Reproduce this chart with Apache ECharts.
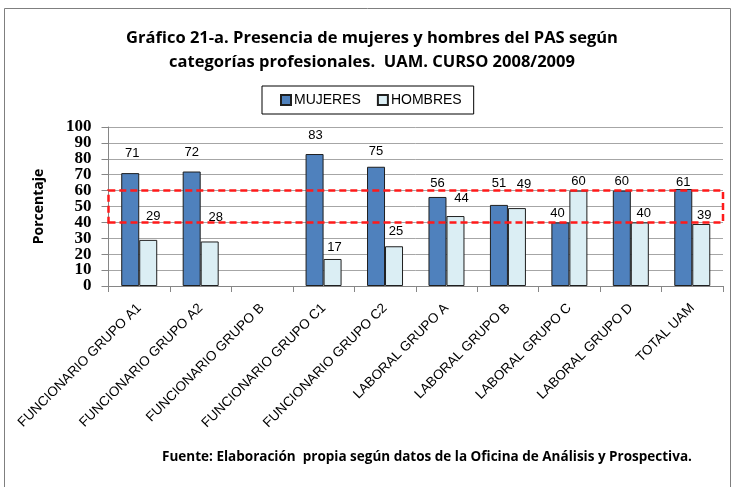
<!DOCTYPE html>
<html>
<head>
<meta charset="utf-8">
<script src="https://cdn.jsdelivr.net/npm/echarts@6/dist/echarts.min.js"></script>
<style>html,body{margin:0;padding:0;background:#fff}#c{width:734px;height:487px}</style>
</head>
<body>
<div id="c"></div>
<script>
const categories = ['FUNCIONARIO GRUPO A1','FUNCIONARIO GRUPO A2','FUNCIONARIO GRUPO B','FUNCIONARIO GRUPO C1','FUNCIONARIO GRUPO C2','LABORAL GRUPO A','LABORAL GRUPO B','LABORAL GRUPO C','LABORAL GRUPO D','TOTAL UAM'];
const mujeres = [71, 72, null, 83, 75, 56, 51, 40, 60, 61];
const hombres = [29, 28, null, 17, 25, 44, 49, 60, 40, 39];
const yTicks = [0,10,20,30,40,50,60,70,80,90,100];
const bandLow = 40, bandHigh = 60;

// label nudges (style only) to mimic the hand-placed labels of the original
const mujShift = [[2,-13],[0,-12],[0,0],[1,-12],[0,-8],[0,-7],[0,-14],[-3,-2],[0,-2],[0,0]];
const homShift = [[5,-16],[6,-17],[0,0],[2,-5],[2,-8],[6,-11],[7,-17],[0,-2],[4,-2],[3,-2]];

function withLabels(vals, shifts){
  return vals.map((v,i)=>({value:v, label:{offset:shifts[i]}}));
}

const chart = echarts.init(document.getElementById('c'), null, {renderer:'canvas'});
const labelStyle = {show:true, position:'top', distance:0, color:'#000', fontSize:13, lineHeight:14, fontFamily:'Liberation Sans'};
const yLabelBase = {margin:17, color:'#000', fontSize:17, fontFamily:'Liberation Serif', fontWeight:'bold',
  showMinLabel:true, showMaxLabel:true};
chart.setOption({
  animation:false,
  backgroundColor:'#fff',
  title:{
    text:'Gráfico 21-a. Presencia de mujeres y hombres del PAS según\ncategorías profesionales.  UAM. CURSO 2008/2009',
    left:372, textAlign:'center', top:26, padding:0,
    textStyle:{fontFamily:'Open Sans', fontWeight:'bold', fontSize:16.5, lineHeight:24, color:'#000'}
  },
  legend:{
    data:['MUJERES','HOMBRES'],
    left:262, top:86, padding:[7,12,7,18],
    borderColor:'#000', borderWidth:1,
    itemWidth:10, itemHeight:10, itemGap:16,
    icon:'rect',
    textStyle:{fontFamily:'Liberation Sans', fontSize:14, color:'#000', padding:[0,0,0,-2]}
  },
  grid:{left:108.5, right:11, top:127, bottom:201, containLabel:false},
  xAxis:{
    type:'category', data:categories,
    axisLine:{lineStyle:{color:'#868686'}},
    axisTick:{show:true, length:6, lineStyle:{color:'#868686'}, alignWithLabel:false},
    axisLabel:{rotate:45, interval:0, margin:20, color:'#000', fontSize:13.5, fontFamily:'Liberation Sans'},
    splitLine:{show:false}
  },
  yAxis:[{
    type:'value', min:0, max:100, interval:10, position:'left',
    name:'Porcentaje', nameLocation:'middle', nameGap:62, nameRotate:90,
    nameTextStyle:{fontFamily:'Open Sans', fontWeight:'bold', fontSize:14, color:'#000'},
    axisLine:{show:true, lineStyle:{color:'#868686'}},
    axisTick:{show:true, inside:false, length:7, lineStyle:{color:'#868686'}},
    axisLabel:Object.assign({}, yLabelBase, {formatter:v=> (yTicks.indexOf(v) >= 0 && v % 20 === 0) ? String(v) : ''}),
    splitLine:{show:true, lineStyle:{color:'#a6a6a6', width:1}}
  },{
    type:'value', min:0, max:100, interval:10, position:'left',
    axisLine:{show:false}, axisTick:{show:false}, splitLine:{show:false},
    axisLabel:Object.assign({}, yLabelBase, {showMinLabel:false, showMaxLabel:false,
      formatter:v=> (yTicks.indexOf(v) >= 0 && v % 20 === 10) ? String(v) : ''})
  }],
  series:[
    {name:'MUJERES', type:'bar', data:withLabels(mujeres, mujShift), barWidth:18, barGap:'0%',
     itemStyle:{color:'#4F81BD', borderColor:'#1f1f1f', borderWidth:1}, label:labelStyle},
    {name:'HOMBRES', type:'bar', data:withLabels(hombres, homShift), barWidth:18,
     itemStyle:{color:'#DBEEF4', borderColor:'#1f1f1f', borderWidth:1}, label:labelStyle},
    {name:'band', type:'line', data:[], z:10, silent:true,
     markArea:{silent:true, z:10,
       itemStyle:{color:'rgba(0,0,0,0)', borderColor:'#FF1A1A', borderWidth:2.5, borderType:[7,4]},
       data:[[{yAxis:bandLow},{yAxis:bandHigh}]]}}
  ],
  graphic:[
    {type:'rect', shape:{x:4.5, y:8.5, width:726, height:500}, style:{fill:'none', stroke:'#7f7f7f', lineWidth:1}, silent:true, z:-1},
    {type:'text', x:427, y:457, style:{text:'Fuente: Elaboración  propia según datos de la Oficina de Análisis y Prospectiva.',
      fontFamily:'Open Sans', fontWeight:'bold', fontSize:13.5, fill:'#000', textAlign:'center', textVerticalAlign:'middle'}}
  ]
});
</script>
</body>
</html>
